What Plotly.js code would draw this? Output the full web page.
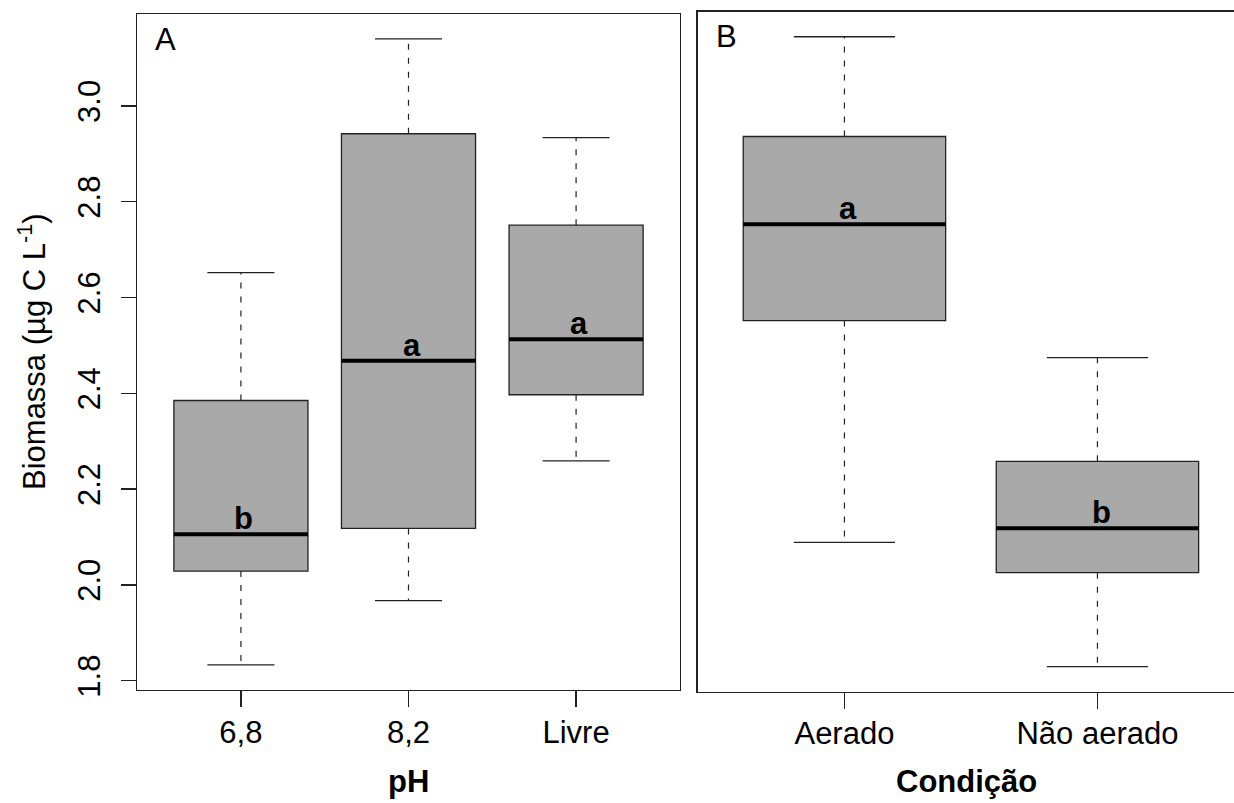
<!DOCTYPE html>
<html>
<head>
<meta charset="utf-8">
<script src="https://cdn.plot.ly/plotly-3.0.1.min.js"></script>
<style>html,body{margin:0;padding:0;background:#fff;}#chart{width:1234px;height:803px;}</style>
</head>
<body>
<div id="chart"></div>
<script>
// ---- Panel A: pH ----
const phCats = ['6,8', '8,2', 'Livre'];
const phUpper  = [2.652, 3.140, 2.934];
const phQ3     = [2.385, 2.942, 2.751];
const phMedian = [2.106, 2.468, 2.513];
const phQ1     = [2.029, 2.118, 2.397];
const phLower  = [1.833, 1.967, 2.259];
const phLetters = ['b', 'a', 'a'];

// ---- Panel B: Condição ----
const condCats = ['Aerado', 'Não aerado'];
const condUpper  = [3.140, 2.474];
const condQ3     = [2.933, 2.259];
const condMedian = [2.751, 2.120];
const condQ1     = [2.551, 2.028];
const condLower  = [2.091, 1.833];
const condLetters = ['a', 'b'];

const yTicks = [1.8, 2.0, 2.2, 2.4, 2.6, 2.8, 3.0];

const FONT = 'Liberation Sans, Arial, sans-serif';
const FS = 31;
const W = 1234, H = 803;
const px = v => v / W;
const py = v => 1 - v / H;
const BOXW = 0.8, STAPLE = 0.4;
const FILL = '#A9A9A9', LINE = '#222';

function panelTraces(cats, upper, q3, med, q1, lower, xa, ya) {
  const pos = cats.map((c, i) => i + 1);
  const traces = [];
  traces.push({
    type: 'box', x: pos, q1: q1, median: med, q3: q3,
    lowerfence: q1, upperfence: q3,
    width: BOXW, boxpoints: false,
    fillcolor: FILL, line: {color: LINE, width: 1.3},
    xaxis: xa, yaxis: ya, showlegend: false, hoverinfo: 'skip'
  });
  // dashed whiskers
  const wx = [], wy = [];
  pos.forEach((p, i) => {
    wx.push(p, p, null, p, p, null);
    wy.push(q3[i], upper[i], null, q1[i], lower[i], null);
  });
  traces.push({type: 'scatter', mode: 'lines', x: wx, y: wy,
    line: {color: LINE, width: 1.2, dash: '6px,8px'},
    xaxis: xa, yaxis: ya, showlegend: false, hoverinfo: 'skip'});
  // staples
  const sx = [], sy = [];
  pos.forEach((p, i) => {
    sx.push(p - STAPLE / 2, p + STAPLE / 2, null, p - STAPLE / 2, p + STAPLE / 2, null);
    sy.push(upper[i], upper[i], null, lower[i], lower[i], null);
  });
  traces.push({type: 'scatter', mode: 'lines', x: sx, y: sy,
    line: {color: LINE, width: 1.3},
    xaxis: xa, yaxis: ya, showlegend: false, hoverinfo: 'skip'});
  // medians
  const mx = [], my = [];
  pos.forEach((p, i) => {
    mx.push(p - BOXW / 2, p + BOXW / 2, null);
    my.push(med[i], med[i], null);
  });
  traces.push({type: 'scatter', mode: 'lines', x: mx, y: my,
    line: {color: '#000', width: 4},
    xaxis: xa, yaxis: ya, showlegend: false, hoverinfo: 'skip'});
  return traces;
}

const data = [].concat(
  panelTraces(phCats, phUpper, phQ3, phMedian, phQ1, phLower, 'x', 'y'),
  panelTraces(condCats, condUpper, condQ3, condMedian, condQ1, condLower, 'x2', 'y2')
);

const annotations = [];
phLetters.forEach((t, i) => annotations.push({
  xref: 'x', yref: 'y', x: i + 1, y: phMedian[i], text: '<b>' + t + '</b>',
  showarrow: false, xanchor: 'center', yanchor: 'bottom', xshift: 3, yshift: -4,
  font: {family: FONT, size: FS, color: '#000'}
}));
condLetters.forEach((t, i) => annotations.push({
  xref: 'x2', yref: 'y2', x: i + 1, y: condMedian[i], text: '<b>' + t + '</b>',
  showarrow: false, xanchor: 'center', yanchor: 'bottom', xshift: 4, yshift: -4,
  font: {family: FONT, size: FS, color: '#000'}
}));
annotations.push(
  {xref: 'paper', yref: 'paper', x: px(153), y: py(40), text: 'A', showarrow: false,
   xanchor: 'left', yanchor: 'middle', font: {family: FONT, size: FS, color: '#000'}},
  {xref: 'paper', yref: 'paper', x: px(714), y: py(37), text: 'B', showarrow: false,
   xanchor: 'left', yanchor: 'middle', font: {family: FONT, size: FS, color: '#000'}},
  {xref: 'paper', yref: 'paper', x: px(408.5), y: py(781), text: '<b>pH</b>', showarrow: false,
   xanchor: 'center', yanchor: 'middle', font: {family: FONT, size: FS, color: '#000'}},
  {xref: 'paper', yref: 'paper', x: px(966), y: py(781), text: '<b>Condição</b>', showarrow: false,
   xanchor: 'center', yanchor: 'middle', font: {family: FONT, size: FS, color: '#000'}},
  {xref: 'paper', yref: 'paper', x: px(32), y: py(352), text: 'Biomassa (µg C L<sup>-1</sup>)',
   showarrow: false, textangle: -90, xanchor: 'center', yanchor: 'middle',
   font: {family: FONT, size: FS, color: '#000'}}
);

const axBase = {
  showgrid: false, zeroline: false, showline: true, linecolor: LINE, linewidth: 1.3,
  ticks: 'outside', tickcolor: LINE, tickwidth: 1.3,
  tickfont: {family: FONT, size: FS, color: '#000'}, fixedrange: true
};

const layout = {
  width: W, height: H,
  margin: {l: 0, r: 0, t: 0, b: 0},
  paper_bgcolor: '#fff', plot_bgcolor: '#fff',
  showlegend: false,
  font: {family: FONT, color: '#000'},
  xaxis: Object.assign({}, axBase, {
    domain: [px(137), px(680)], range: [0.38, 3.62], anchor: 'y', mirror: true,
    tickmode: 'array', tickvals: phCats.map((c, i) => i + 1), ticktext: phCats,
    ticklen: 16, ticklabelstandoff: -2
  }),
  yaxis: Object.assign({}, axBase, {
    domain: [py(690), py(14)], range: [1.7806, 3.192], anchor: 'x', mirror: true,
    tickmode: 'array', tickvals: yTicks, ticktext: yTicks.map(v => v.toFixed(1)),
    tickangle: -90, ticklen: 15, ticklabelstandoff: 8
  }),
  xaxis2: Object.assign({}, axBase, {
    domain: [px(697.7), 1], range: [0.42, 0.42 + (W - 697.7) / 253], anchor: 'y2', mirror: true,
    tickmode: 'array', tickvals: condCats.map((c, i) => i + 1), ticktext: condCats,
    ticklen: 16, ticklabelstandoff: -2
  }),
  yaxis2: Object.assign({}, axBase, {
    domain: [py(691.7), py(11.7)], range: [1.781, 3.192], anchor: 'x2', mirror: false,
    showticklabels: false, ticks: ''
  }),
  annotations: annotations
};

Plotly.newPlot('chart', data, layout, {displayModeBar: false, staticPlot: true});
</script>
</body>
</html>
